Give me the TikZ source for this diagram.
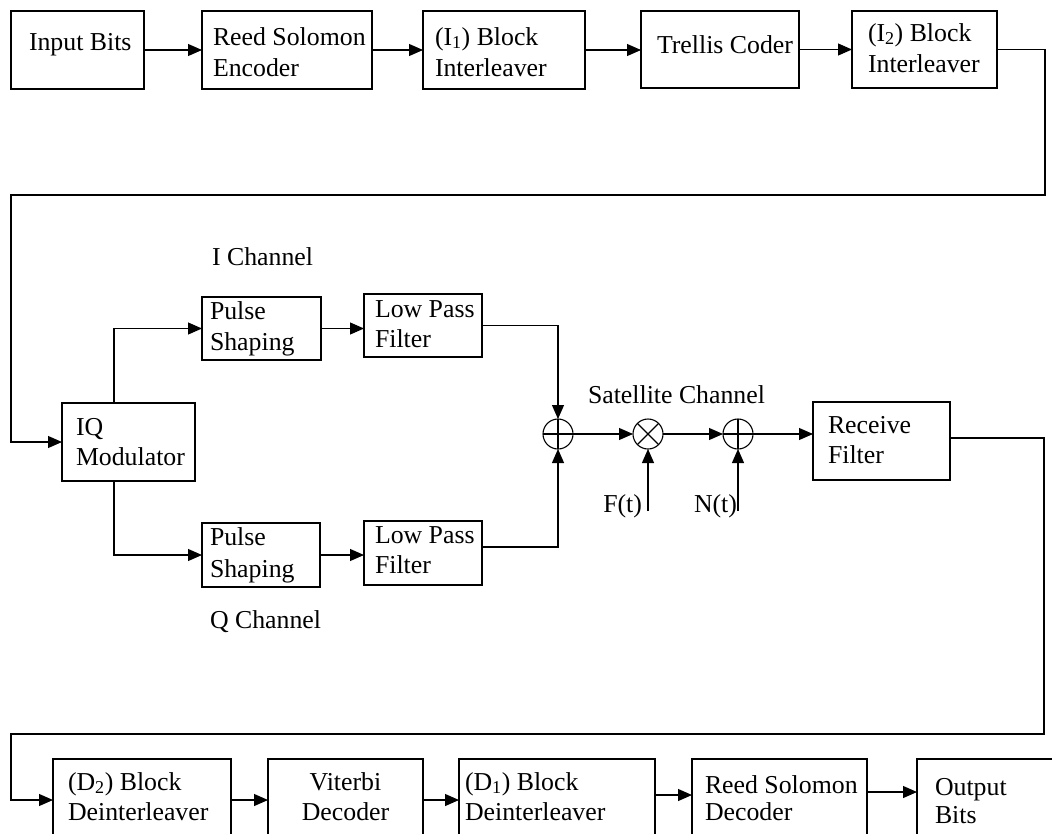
\documentclass[tikz,border=0pt]{standalone}
\usepackage{fontspec}
\setmainfont{Liberation Serif}
\usetikzlibrary{arrows.meta,calc}
\newcommand\twoline[6]{\node[txt] (#1a) at (#2,#3) {#5}; \node[txt] (#1b) at (#2,#4) {#6};}
\begin{document}
\begin{tikzpicture}[x=1pt,y=-1pt,
  every node/.style={inner sep=0pt,outer sep=0pt},
  blk/.style={draw,line width=1.1pt,rectangle,anchor=north west},
  txt/.style={anchor=base west,font=\fontsize{25.8}{31}\selectfont},
  sumnode/.style={draw,circle,line width=1.1pt,minimum size=30pt},
  wire/.style={line width=1.1pt},
  arr/.style={wire,-{Triangle[length=14pt,width=12pt]}}]
\useasboundingbox (0,0) rectangle (1052,833);
\clip (0,0) rectangle (1052,833);

% boxes
\node[blk,minimum width=133pt,minimum height=78pt] (inb) at (11,11) {};
\node[blk,minimum width=170pt,minimum height=78pt] (rse) at (202,11) {};
\node[blk,minimum width=162pt,minimum height=78pt] (il1) at (423,11) {};
\node[blk,minimum width=158pt,minimum height=77pt] (trc) at (641,11) {};
\node[blk,minimum width=145pt,minimum height=77pt] (il2) at (852,11) {};
\node[blk,minimum width=133pt,minimum height=78pt] (iq) at (62,403) {};
\node[blk,minimum width=119pt,minimum height=63pt] (ps1) at (202,297) {};
\node[blk,minimum width=118pt,minimum height=63pt] (lp1) at (364,294) {};
\node[blk,minimum width=118pt,minimum height=64pt] (ps2) at (202,523) {};
\node[blk,minimum width=118pt,minimum height=64pt] (lp2) at (364,521) {};
\node[blk,minimum width=137pt,minimum height=78pt] (rf) at (813,402) {};
\node[blk,minimum width=178pt,minimum height=100pt] (d2) at (53,759) {};
\node[blk,minimum width=155pt,minimum height=100pt] (vit) at (268,759) {};
\node[blk,minimum width=196pt,minimum height=100pt] (d1) at (459,759) {};
\node[blk,minimum width=175pt,minimum height=100pt] (rsd) at (692,759) {};
\node[blk,minimum width=150pt,minimum height=100pt] (ob) at (917,759) {};

% summers and multiplier
\node[sumnode] (s1) at (558,434) {};
\node[sumnode] (m1) at (648,434) {};
\node[sumnode] (s2) at (738,434) {};
\draw[wire] (s1.north) -- (s1.south) (s1.west) -- (s1.east);
\draw[wire] (s2.north) -- (s2.south) (s2.west) -- (s2.east);
\draw[wire] (m1.north west) -- (m1.south east) (m1.north east) -- (m1.south west);

% box texts
\node[txt] (inbt) at (29,50) {Input Bits};
\twoline{rset}{213}{45}{76}{Reed Solomon}{Encoder}
\twoline{il1t}{435}{45}{76}{(I\textsubscript{1}) Block}{Interleaver}
\node[txt] (trct) at (657,53) {Trellis Coder};
\twoline{il2t}{868}{41}{72}{(I\textsubscript{2}) Block}{Interleaver}
\twoline{iqt}{76}{435}{465}{IQ}{Modulator}
\twoline{ps1t}{210}{319}{350}{Pulse}{Shaping}
\twoline{lp1t}{375}{317}{347}{Low Pass}{Filter}
\twoline{ps2t}{210}{545}{577}{Pulse}{Shaping}
\twoline{lp2t}{375}{543}{573}{Low Pass}{Filter}
\twoline{rft}{828}{433}{463}{Receive}{Filter}
\twoline{d2t}{68}{790}{820}{(D\textsubscript{2}) Block}{Deinterleaver}
\node[txt,anchor=base] (vita) at (345.5,790) {Viterbi};
\node[txt,anchor=base] (vitb) at (345.5,820) {Decoder};
\twoline{d1t}{465}{790}{820}{(D\textsubscript{1}) Block}{Deinterleaver}
\twoline{rsdt}{705}{793}{820}{Reed Solomon}{Decoder}
\twoline{obt}{935}{795}{823}{Output}{Bits}

% free labels
\node[txt] (tI) at (212,265) {I Channel};
\node[txt] (tQ) at (210,628) {Q Channel};
\node[txt] (tS) at (588,403) {Satellite Channel};
\node[txt,anchor=base east] (tF) at (642,512) {F(t)};
\node[txt,anchor=base east] (tN) at (737,512) {N(t)};

% coordinates
\coordinate (r1) at (1045,195);
\coordinate (l1) at (11,195);
\coordinate (bx) at (114,0);
\coordinate (ft) at (648,511);
\coordinate (nt) at (738,511);
\coordinate (r2) at (1044,734);
\coordinate (l2) at (11,734);

% connectors top row
\draw[arr] (inb) -- (rse);
\draw[arr] (rse) -- (il1);
\draw[arr] (il1.east) -- (il1.east -| trc.west);
\draw[arr] (trc.east) -- (trc.east -| il2.west);
\draw[arr] (il2.east) -| (r1) -- (l1) |- (iq.west);

% middle
\draw[arr] (iq.north -| bx) |- (ps1.west);
\draw[arr] (iq.south -| bx) |- (ps2.west);
\draw[arr] (ps1.east) -- (ps1.east -| lp1.west);
\draw[arr] (ps2.east) -- (ps2.east -| lp2.west);
\draw[arr] (lp1.east) -| (s1.north);
\draw[arr] ($(lp2.north east)+(0,26)$) -| (s1.south);
\draw[arr] (s1) -- (m1);
\draw[arr] (m1) -- (s2);
\draw[arr] (s2.east) -- (s2.east -| rf.west);
\draw[arr] (ft) -- (m1.south);
\draw[arr] (nt) -- (s2.south);
\draw[arr] ($(rf.north east)+(0,36)$) -| (r2) -- (l2) |- ($(d2.north west)+(0,41)$);

% bottom row
\draw[arr] ($(d2.north east)+(0,41)$) -- ($(vit.north west)+(0,41)$);
\draw[arr] ($(vit.north east)+(0,41)$) -- ($(d1.north west)+(0,41)$);
\draw[arr] ($(d1.north east)+(0,36)$) -- ($(rsd.north west)+(0,36)$);
\draw[arr] ($(rsd.north east)+(0,33)$) -- ($(ob.north west)+(0,33)$);
\end{tikzpicture}
\end{document}
